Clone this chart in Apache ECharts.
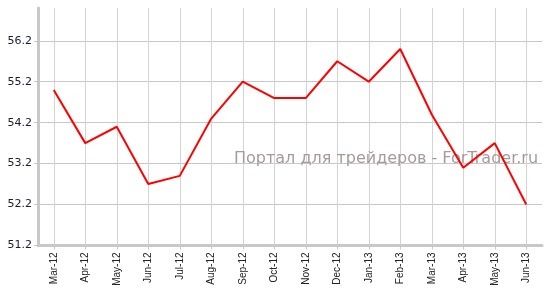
<!DOCTYPE html>
<html><head><meta charset="utf-8">
<script src="https://cdn.jsdelivr.net/npm/echarts@6/dist/echarts.min.js"></script>
<style>html,body{margin:0;padding:0;background:#fff}#c{width:551px;height:299px}</style>
</head><body><div id="c"></div>
<script>
const categories = ['Mar-12','Apr-12','May-12','Jun-12','Jul-12','Aug-12','Sep-12','Oct-12','Nov-12','Dec-12','Jan-13','Feb-13','Mar-13','Apr-13','May-13','Jun-13'];
const values = [55.0, 53.7, 54.1, 52.7, 52.9, 54.3, 55.2, 54.8, 54.8, 55.7, 55.2, 56.0, 54.4, 53.1, 53.7, 52.2];
const yMin = 51.2, yMax = 57.0, yStep = 1;
const watermark = 'Портал для трейдеров - ForTrader.ru';

const chart = echarts.init(document.getElementById('c'), null, {renderer:'canvas'});
chart.setOption({
  animation: false,
  backgroundColor: '#fff',
  grid: {left: 38, right: 9, top: 8, bottom: 53.5, containLabel: false},
  graphic: [{
    type: 'text', left: 234, top: 151, z: 1,
    style: {text: watermark, fill: '#a89a9a', font: '16px "DejaVu Sans"'}
  }],
  xAxis: {
    type: 'category', data: categories, boundaryGap: true,
    axisLine: {lineStyle: {color: '#c8c8c8', width: 3}},
    axisTick: {show: true, alignWithLabel: true, length: 4, lineStyle: {color: '#c8c8c8'}},
    axisLabel: {rotate: 90, margin: 7, color: '#222', fontSize: 10, fontFamily: '"Liberation Sans", Arial', interval: 0},
    splitLine: {show: true, alignWithLabel: true, lineStyle: {color: '#d4d4d4', width: 1}}
  },
  yAxis: {
    type: 'value', min: yMin, max: yMax, interval: yStep,
    axisLine: {show: true, lineStyle: {color: '#c8c8c8', width: 3}},
    axisTick: {show: true, length: 4, lineStyle: {color: '#c8c8c8'}},
    axisLabel: {color: '#1a1a33', fontSize: 11, fontFamily: '"DejaVu Sans"', margin: 6,
      showMaxLabel: false,
      formatter: v => Math.abs(v - yMax) < 1e-6 ? '' : v.toFixed(1)},
    splitLine: {show: true, showMaxLine: false, lineStyle: {color: '#c8c8c8', width: 1}}
  },
  series: [{
    type: 'line', data: values, z: 3, symbol: 'none',
    lineStyle: {color: '#ff0000', width: 2}
  }]
});
</script></body></html>
